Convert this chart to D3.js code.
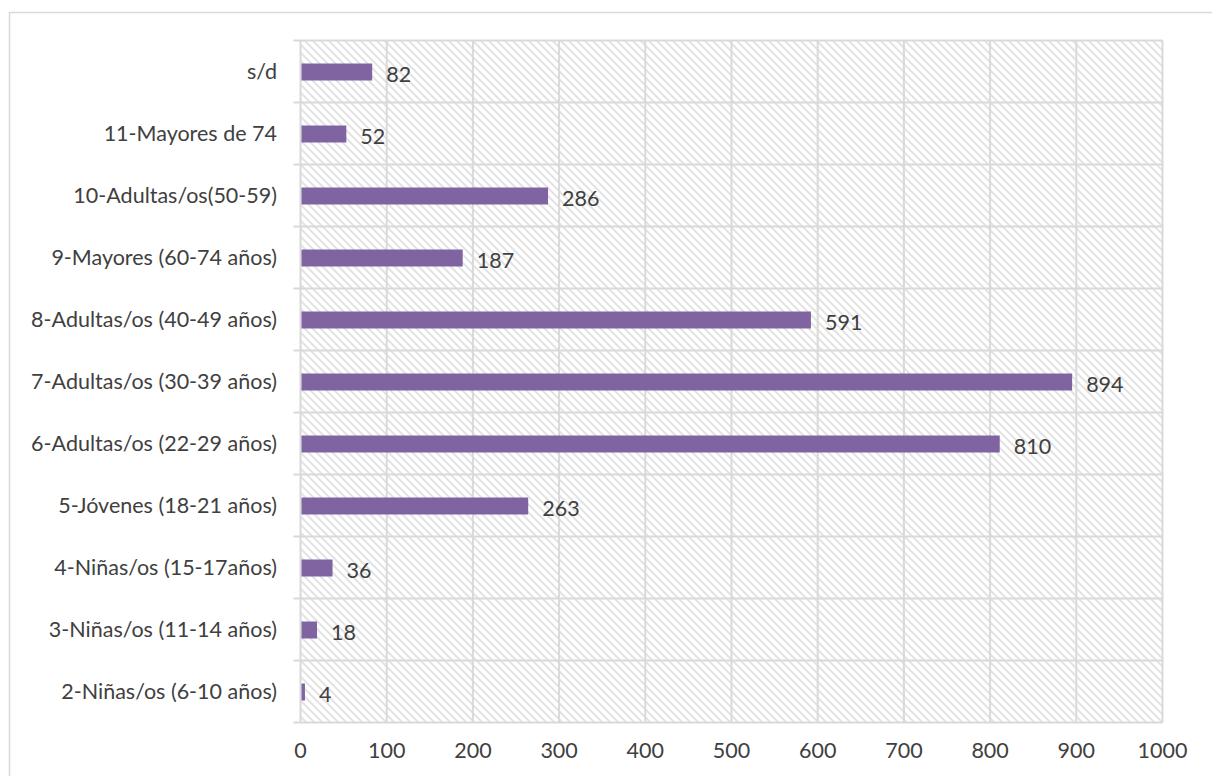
<!DOCTYPE html>
<html>
<head>
<meta charset="utf-8">
<script src="https://cdn.jsdelivr.net/npm/d3@7"></script>
<style>
  body { margin: 0; background: #fff; }
  text { font-family: Lato, "Open Sans", sans-serif; fill: #404040; }
</style>
</head>
<body>
<div id="chart"></div>
<script>
// categories top to bottom
var categories = [
  "s/d",
  "11-Mayores de 74",
  "10-Adultas/os(50-59)",
  "9-Mayores (60-74 años)",
  "8-Adultas/os (40-49 años)",
  "7-Adultas/os (30-39 años)",
  "6-Adultas/os (22-29 años)",
  "5-Jóvenes (18-21 años)",
  "4-Niñas/os (15-17años)",
  "3-Niñas/os (11-14 años)",
  "2-Niñas/os (6-10 años)"
];
var values = [82, 52, 286, 187, 591, 894, 810, 263, 36, 18, 4];
var xTicks = [0, 100, 200, 300, 400, 500, 600, 700, 800, 900, 1000];

var width = 1212;
var height = 776;
var plotLeft = 300.5;
var plotRight = 1162.5;
var plotTop = 40.5;
var plotBottom = 722.5;
var gridColor = "#d9d9d9";
var fontSize = 21.5;

var svg = d3.select("#chart")
    .append("svg")
    .attr("width", width)
    .attr("height", height);

// hatch pattern for the plot background
var defs = svg.append("defs");
var pat = defs.append("pattern")
    .attr("id", "hatch")
    .attr("patternUnits", "userSpaceOnUse")
    .attr("width", 8)
    .attr("height", 8);
pat.append("path")
    .attr("d", "M-2,-2 L10,10 M-2,6 L2,10 M6,-2 L10,2")
    .attr("stroke", "#e3e3e3")
    .attr("stroke-width", 2);

// outer chart border
svg.append("rect")
    .attr("x", 9.5)
    .attr("y", 12.5)
    .attr("width", width)
    .attr("height", height)
    .attr("fill", "none")
    .attr("stroke", gridColor)
    .attr("stroke-width", 1.5);

var xScale = d3.scaleLinear()
    .domain([0, 1000])
    .range([plotLeft, plotRight]);

var yScale = d3.scaleBand()
    .domain(categories)
    .range([plotTop, plotBottom]);

svg.append("rect")
    .attr("x", plotLeft)
    .attr("y", plotTop)
    .attr("width", plotRight - plotLeft)
    .attr("height", plotBottom - plotTop)
    .attr("fill", "url(#hatch)");

// vertical gridlines
svg.append("g")
    .selectAll("line")
    .data(xTicks)
    .enter()
    .append("line")
    .attr("x1", function(d) { return xScale(d); })
    .attr("x2", function(d) { return xScale(d); })
    .attr("y1", plotTop)
    .attr("y2", plotBottom)
    .attr("stroke", gridColor)
    .attr("stroke-width", 2);

// horizontal gridlines with left ticks
var yEdges = categories.map(function(c) { return yScale(c); }).concat([plotBottom]);
svg.append("g")
    .selectAll("line")
    .data(yEdges)
    .enter()
    .append("line")
    .attr("x1", plotLeft - 7)
    .attr("x2", plotRight)
    .attr("y1", function(d) { return d; })
    .attr("y2", function(d) { return d; })
    .attr("stroke", gridColor)
    .attr("stroke-width", 2);

// category labels
svg.append("g")
    .selectAll("text")
    .data(categories)
    .enter()
    .append("text")
    .attr("x", 277)
    .attr("y", function(d) { return yScale(d) + yScale.bandwidth() / 2 + 7.5; })
    .attr("text-anchor", "end")
    .attr("font-size", fontSize)
    .text(function(d) { return d; });

// x tick labels
svg.append("g")
    .selectAll("text")
    .data(xTicks)
    .enter()
    .append("text")
    .attr("x", function(d) { return xScale(d); })
    .attr("y", 757.5)
    .attr("text-anchor", "middle")
    .attr("font-size", fontSize)
    .text(function(d) { return d; });

// bars
var barH = 17;
svg.append("g")
    .selectAll("rect")
    .data(values)
    .enter()
    .append("rect")
    .attr("x", xScale(0) + 1)
    .attr("y", function(d, i) { return yScale(categories[i]) + yScale.bandwidth() / 2 - barH / 2 + 0.5; })
    .attr("width", function(d) { return xScale(d) - xScale(0); })
    .attr("height", barH)
    .attr("fill", "#8064a2");

// value labels
svg.append("g")
    .selectAll("text")
    .data(values)
    .enter()
    .append("text")
    .attr("x", function(d) { return xScale(d) + 15; })
    .attr("y", function(d, i) { return yScale(categories[i]) + yScale.bandwidth() / 2 + 10; })
    .attr("font-size", fontSize)
    .text(function(d) { return d; });
</script>
</body>
</html>
